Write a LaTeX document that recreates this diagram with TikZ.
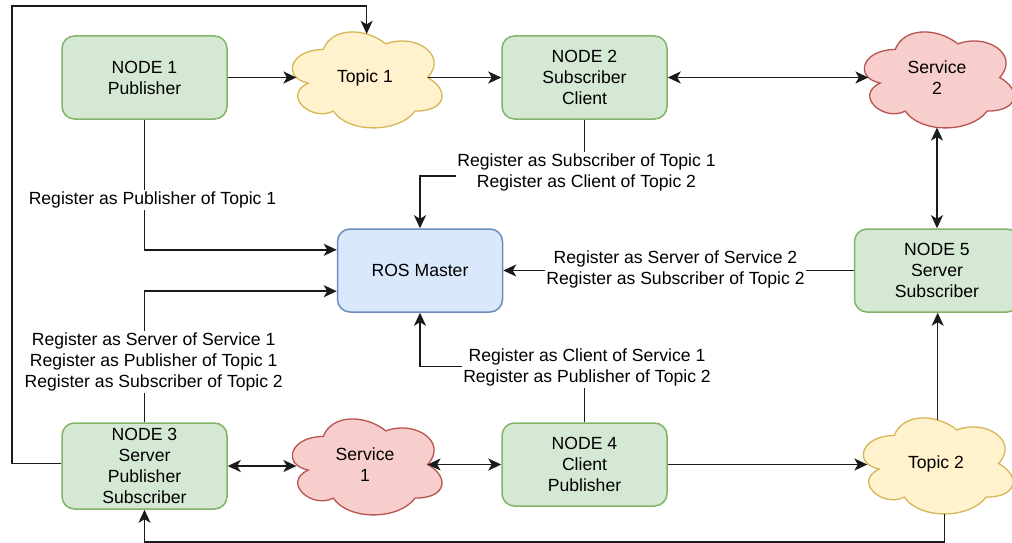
\documentclass[tikz,border=0pt]{standalone}
\usepackage{fontspec}
\setmainfont{Liberation Sans}
\usetikzlibrary{arrows.meta}

\definecolor{greenfill}{HTML}{D5E8D4}
\definecolor{greenline}{HTML}{82B366}
\definecolor{bluefill}{HTML}{DAE8FC}
\definecolor{blueline}{HTML}{6C8EBF}
\definecolor{redfill}{HTML}{F8CECC}
\definecolor{redline}{HTML}{B85450}
\definecolor{yellowfill}{HTML}{FFF2CC}
\definecolor{yellowline}{HTML}{D6B656}
\definecolor{wire}{HTML}{1A1A1A}

\tikzset{
  txt/.style={font=\fontsize{17.6}{21}\selectfont, align=center, text=black},
  rosnode/.style={txt, draw=greenline, fill=greenfill, line width=1.5pt,
    rounded corners=12.5pt, minimum width=165pt, minimum height=83pt, inner sep=0pt},
  master/.style={rosnode, draw=blueline, fill=bluefill},
  tip/.tip={Stealth[length=13pt,width=12pt,inset=3.5pt]},
  link/.style={line width=1.5pt, draw=wire, -tip},
  duplex/.style={line width=1.5pt, draw=wire, tip-tip},
  regnote/.style={txt, fill=white, inner sep=1.5pt},
}

% cloud outline in a unit frame (y downwards), with named text node and
% boundary points: -l left, -r right, -t top, -b bottom, -bb bottom right of centre
\newcommand\cloudat[5]{%
  \begin{scope}[shift={#2}, x={(167pt,0pt)}, y={(0pt,-112pt)}, shift={(-0.5,-0.5)}]
    \draw[draw=#4, fill=#3, line width=1.3pt]
      (0.25,0.25) .. controls (0.05,0.25) and (0,0.5) .. (0.16,0.55)
      .. controls (0,0.66) and (0.18,0.9) .. (0.31,0.8)
      .. controls (0.4,1) and (0.7,1) .. (0.8,0.8)
      .. controls (1,0.8) and (1,0.6) .. (0.875,0.5)
      .. controls (1,0.3) and (0.8,0.1) .. (0.625,0.2)
      .. controls (0.5,0.05) and (0.3,0.05) .. (0.25,0.25) -- cycle;
    \node[txt, inner sep=0pt] (#1) at (0.5,0.5) {#5};
    \coordinate (#1-l) at (0.089,0.5);
    \coordinate (#1-r) at (0.875,0.5);
    \coordinate (#1-t) at (0.51,0.11);
    \coordinate (#1-b) at (0.5,0.947);
    \coordinate (#1-bb) at (0.55,0.95);
  \end{scope}}

\begin{document}
\begin{tikzpicture}[x=1pt, y=-1pt]
  \path[use as bounding box, fill=white] (0,0) rectangle (1012,543);

  % ROS nodes and the master
  \node[rosnode] (n1) at (144.5,77.5) {NODE 1\\Publisher};
  \node[rosnode] (n2) at (584.5,77.5) {NODE 2\\Subscriber\\Client};
  \node[master]  (ros) at (420,270.5) {ROS Master};
  \node[rosnode] (n5) at (937,270.5) {NODE 5\\Server\\Subscriber};
  \node[rosnode, minimum height=86pt] (n3) at (144.5,466) {NODE 3\\Server\\Publisher\\Subscriber};
  \node[rosnode] (n4) at (584.5,464.5) {NODE 4\\Client\\Publisher};

  % topics and services
  \cloudat{t1}{(365,77.5)}{yellowfill}{yellowline}{Topic 1}
  \cloudat{s2}{(937,77.5)}{redfill}{redline}{Service\\2}
  \cloudat{s1}{(365,464.5)}{redfill}{redline}{Service\\1}
  \cloudat{t2}{(936,463.5)}{yellowfill}{yellowline}{Topic 2}

  \coordinate (loop) at (12,6);

  % data flow
  \draw[link] ([yshift=2.5pt]n3.west) -| (loop) -| (t1-t);
  \draw[link] (n1.east) -- (n1.east -| t1-l);
  \draw[link] (t1-r) -- (t1-r -| n2.west);
  \draw[duplex] (n2.east) -- (n2.east -| s2-l);
  \draw[duplex] (s2-b) -- (s2-b |- n5.north);
  \draw[duplex] (n3.east) -- (n3.east -| s1-l);
  \draw[duplex] (s1-r) -- (s1-r -| n4.west);
  \draw[link] (n4.east) -- (n4.east -| t2-l);
  \draw[link] (t2-t) -- (t2-t |- n5.south);
  \draw[link] (t2-bb) -- ++(0,28) -| (n3.south);

  % registration with the master
  \draw[link] (n1.south) |- ([yshift=20.7pt]ros.west);
  \draw[link] (n3.north) |- ([yshift=-20.7pt]ros.west);
  \draw[link] (n2.south) -- ++(0,56) -| (ros.north);
  \draw[link] (n4.north) -- ++(0,-56) -| (ros.south);
  \draw[link] (n5.west) -- (ros.east);

  \node[regnote] (reg1) at (152.5,200) {Register as Publisher of Topic 1};
  \node[regnote] (reg2) at (586.5,172.5) {Register as Subscriber of Topic 1\\Register as Client of Topic 2};
  \node[regnote] (reg3) at (153.7,362) {Register as Server of Service 1\\Register as Publisher of Topic 1\\Register as Subscriber of Topic 2};
  \node[regnote] (reg4) at (587,367.5) {Register as Client of Service 1\\Register as Publisher of Topic 2};
  \node[regnote] (reg5) at (675.5,269.5) {Register as Server of Service 2\\Register as Subscriber of Topic 2};
\end{tikzpicture}
\end{document}
